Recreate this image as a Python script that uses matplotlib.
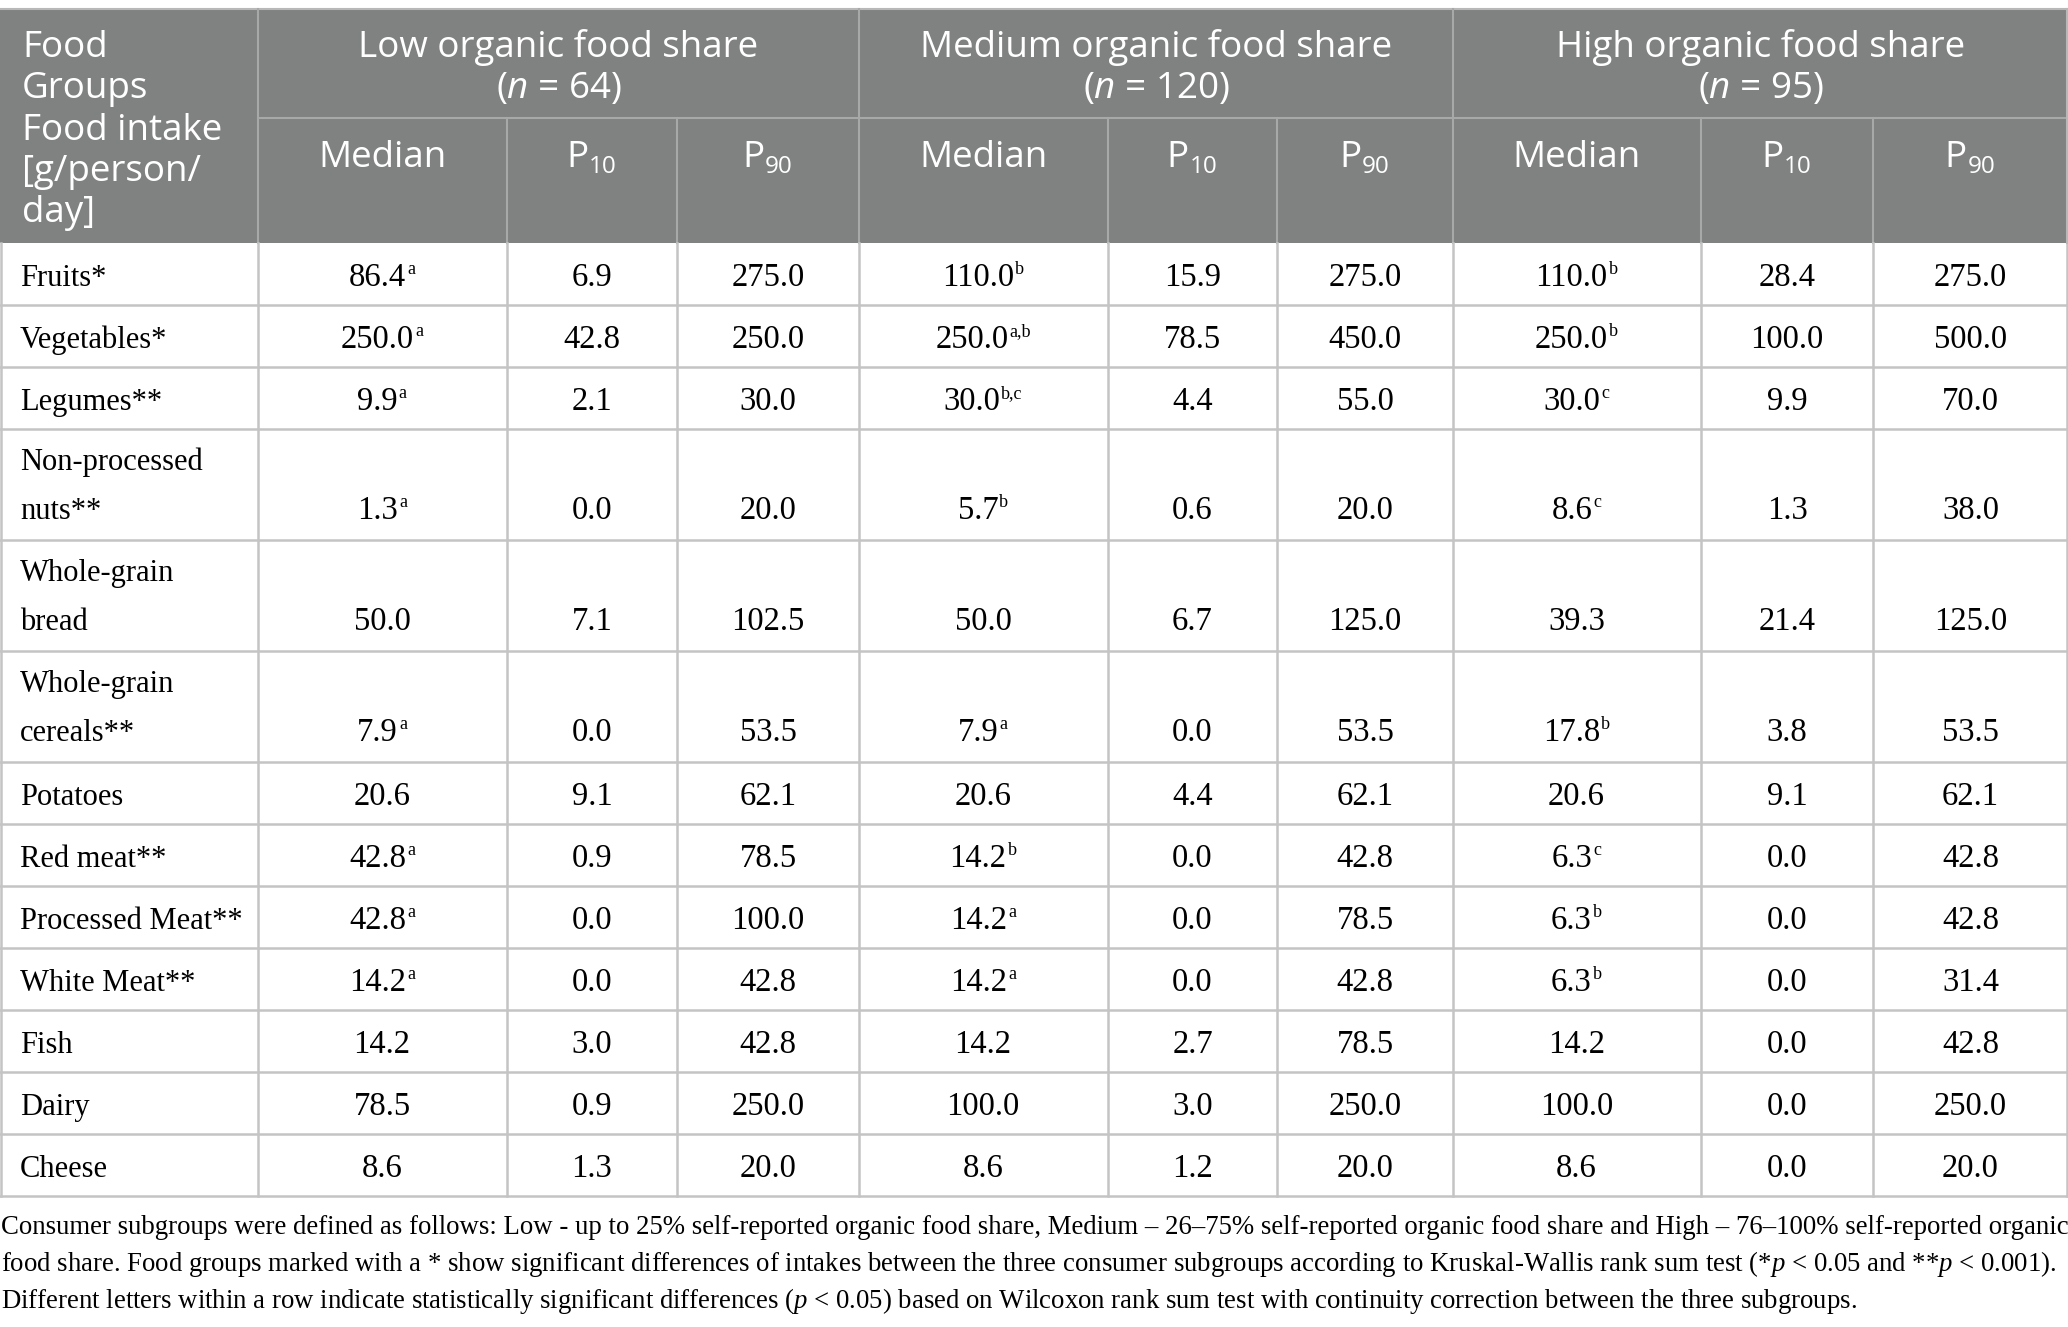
import matplotlib
matplotlib.use('Agg')
import matplotlib.pyplot as plt
from matplotlib.patches import Rectangle

# table data
foods = ['Fruits*', 'Vegetables*', 'Legumes**', 'Non-processed\nnuts**', 'Whole-grain\nbread',
         'Whole-grain\ncereals**', 'Potatoes', 'Red meat**', 'Processed Meat**', 'White Meat**',
         'Fish', 'Dairy', 'Cheese']

groups = ['Low organic food share', 'Medium organic food share', 'High organic food share']
group_n = [64, 120, 95]

low_median = [86.4, 250.0, 9.9, 1.3, 50.0, 7.9, 20.6, 42.8, 42.8, 14.2, 14.2, 78.5, 8.6]
low_sup = ['a', 'a', 'a', 'a', '', 'a', '', 'a', 'a', 'a', '', '', '']
low_p10 = [6.9, 42.8, 2.1, 0.0, 7.1, 0.0, 9.1, 0.9, 0.0, 0.0, 3.0, 0.9, 1.3]
low_p90 = [275.0, 250.0, 30.0, 20.0, 102.5, 53.5, 62.1, 78.5, 100.0, 42.8, 42.8, 250.0, 20.0]

med_median = [110.0, 250.0, 30.0, 5.7, 50.0, 7.9, 20.6, 14.2, 14.2, 14.2, 14.2, 100.0, 8.6]
med_sup = ['b', 'a,b', 'b,c', 'b', '', 'a', '', 'b', 'a', 'a', '', '', '']
med_p10 = [15.9, 78.5, 4.4, 0.6, 6.7, 0.0, 4.4, 0.0, 0.0, 0.0, 2.7, 3.0, 1.2]
med_p90 = [275.0, 450.0, 55.0, 20.0, 125.0, 53.5, 62.1, 42.8, 78.5, 42.8, 78.5, 250.0, 20.0]

high_median = [110.0, 250.0, 30.0, 8.6, 39.3, 17.8, 20.6, 6.3, 6.3, 6.3, 14.2, 100.0, 8.6]
high_sup = ['b', 'b', 'c', 'c', '', 'b', '', 'c', 'b', 'b', '', '', '']
high_p10 = [28.4, 100.0, 9.9, 1.3, 21.4, 3.8, 9.1, 0.0, 0.0, 0.0, 0.0, 0.0, 0.0]
high_p90 = [275.0, 500.0, 70.0, 38.0, 125.0, 53.5, 62.1, 42.8, 42.8, 31.4, 42.8, 250.0, 20.0]

footnote = [
    'Consumer subgroups were defined as follows: Low - up to 25% self-reported organic food share, '
    'Medium \u2013 26\u201375% self-reported organic food share and High \u2013 76\u2013100% self-reported organic',
    'food share. Food groups marked with a * show significant differences of intakes between the three '
    'consumer subgroups according to Kruskal-Wallis rank sum test (*$\\mathcal{p}$ < 0.05 and **$\\mathcal{p}$ < 0.001).',
    'Different letters within a row indicate statistically significant differences ($\\mathcal{p}$ < 0.05) '
    'based on Wilcoxon rank sum test with continuity correction between the three subgroups.',
]

SERIF = 'Liberation Serif'
SANS = 'Open Sans'
plt.rcParams['mathtext.fontset'] = 'custom'
plt.rcParams['mathtext.it'] = 'Open Sans:italic'
plt.rcParams['mathtext.cal'] = 'Liberation Serif:italic'

W, H = 2068, 1327
fig = plt.figure(figsize=(W / 100, H / 100), dpi=100)
ax = fig.add_axes([0, 0, 1, 1])
ax.set_xlim(0, W)
ax.set_ylim(H, 0)
ax.axis('off')
renderer = fig.canvas.get_renderer()

cols = [0, 258, 507, 677, 859, 1108, 1277, 1453, 1701, 1873, W]
head_top, head_mid, head_bot = 9, 118, 243
row_h = {1: 62, 2: 111}

HEAD_BG = '#808281'
HEAD_LINE = '#a7a9a8'
BODY_LINE = '#c4c4c4'
FS = 23.5      # numbers
LFS = 22       # row labels
HFS = 26.5


def draw_runs(cx, y, runs, color='black'):
    # runs: (text, fontsize, family, dy); centre the whole group on cx
    objs = []
    total = 0
    for txt, fs, fam, dy in runs:
        t = ax.text(0, y + dy, txt, fontsize=fs, family=fam, ha='left', va='baseline', color=color)
        w = t.get_window_extent(renderer).width
        objs.append((t, w))
        total += w + 1
    x = cx - total / 2
    for t, w in objs:
        t.set_x(x)
        x += w + 1


# header
ax.add_patch(Rectangle((0, head_top), W, head_bot - head_top, color=HEAD_BG, lw=0))
ax.plot([0, W], [head_top, head_top], color='#b8b8b8', lw=1.5)
head_lines = ['Food', 'Groups', 'Food intake', '[g/person/', 'day]']
for i, s in enumerate(head_lines):
    ax.text(22, 57 + i * 41.3, s, fontsize=HFS, family=SANS, color='white', va='baseline')

for g in range(3):
    x0, x1 = cols[1 + 3 * g], cols[4 + 3 * g]
    cx = (x0 + x1) / 2
    ax.text(cx, 57, groups[g], fontsize=HFS, family=SANS, color='white', ha='center', va='baseline')
    ax.text(cx, 98, '($\\mathit{n}$ = %d)' % group_n[g], fontsize=HFS, family=SANS,
            color='white', ha='center', va='baseline')
    for k, lab in enumerate(['Median', 'P10', 'P90']):
        c = (cols[1 + 3 * g + k] + cols[2 + 3 * g + k]) / 2
        if lab == 'Median':
            ax.text(c, 167, lab, fontsize=HFS, family=SANS, color='white', ha='center', va='baseline')
        else:
            draw_runs(c, 167, [('P', HFS, SANS, 0), (lab[1:], HFS * 0.66, SANS, 6)], color='white')

ax.plot([cols[1], W], [head_mid, head_mid], color=HEAD_LINE, lw=1.5)
for i, x in enumerate(cols[1:-1], start=1):
    ytop = head_top if i in (1, 4, 7) else head_mid
    ax.plot([x, x], [ytop, head_bot], color=HEAD_LINE, lw=1.5)

# body
series = [(low_median, low_sup), low_p10, low_p90,
          (med_median, med_sup), med_p10, med_p90,
          (high_median, high_sup), high_p10, high_p90]

y = head_bot
for r, name in enumerate(foods):
    parts = name.split('\n')
    h = row_h[len(parts)]
    if len(parts) == 1:
        ax.text(20, y + 43, parts[0], fontsize=LFS, family=SERIF, va='baseline')
        base = y + 43
    else:
        ax.text(20, y + 41, parts[0], fontsize=LFS, family=SERIF, va='baseline')
        ax.text(20, y + 90, parts[1], fontsize=LFS, family=SERIF, va='baseline')
        base = y + 90
    for c, s in enumerate(series):
        cx = (cols[c + 1] + cols[c + 2]) / 2
        if isinstance(s, tuple):
            val, sup = s[0][r], s[1][r]
            runs = [('%.1f' % val, FS, SERIF, 0)]
            if sup:
                runs.append((sup, FS * 0.55, SERIF, -12))
            draw_runs(cx, base, runs)
        else:
            ax.text(cx, base, '%.1f' % s[r], fontsize=FS, family=SERIF, ha='center', va='baseline')
    y += h
    ax.plot([0, W], [y, y], color=BODY_LINE, lw=1.8)

for x in cols:
    xx = min(max(x, 1), W - 1)
    ax.plot([xx, xx], [head_bot, y], color=BODY_LINE, lw=1.8)
ax.plot([W - 1, W - 1], [head_top, head_bot], color='#b8b8b8', lw=1.5)

# footnote
for i, s in enumerate(footnote):
    ax.text(1, y + 38 + i * 37, s, fontsize=19.3, family=SERIF, va='baseline')

fig.savefig('out.png', dpi=100)
